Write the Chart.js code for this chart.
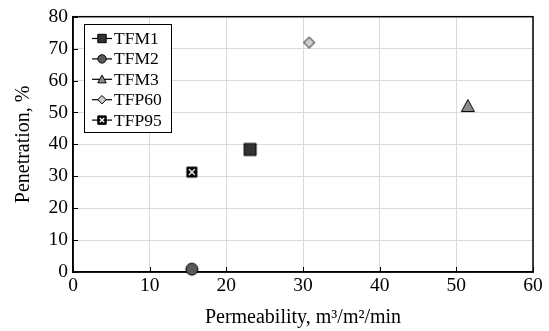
<!DOCTYPE html>
<html>
<head>
<meta charset="utf-8">
<script src="https://cdn.jsdelivr.net/npm/chart.js@4.4.0/dist/chart.umd.min.js"></script>
<style>
  html, body { margin: 0; padding: 0; background: #fff; }
  #wrap { width: 549px; height: 331px; }
</style>
</head>
<body>
<div id="wrap"><canvas id="scatterChart" width="549" height="331"></canvas></div>
<script>
const categories = ['TFM1', 'TFM2', 'TFM3', 'TFP60', 'TFP95'];
const permeability = [23.1, 15.5, 51.5, 30.8, 15.5];
const penetration = [38.4, 0.9, 52.0, 71.9, 31.3];
const markers = ['square', 'circle', 'triangle', 'diamond', 'xbox'];
const fills = ['#333333', '#595959', '#8c8c8c', '#cccccc', '#000000'];

const FONT = '"Liberation Serif", "Times New Roman", serif';

function drawMarker(ctx, style, cx, cy, r, fill) {
    ctx.save();
    ctx.lineWidth = 1;
    ctx.strokeStyle = '#000';
    ctx.fillStyle = fill;
    ctx.beginPath();
    if (style === 'square' || style === 'xbox') {
        ctx.rect(cx - r, cy - r, 2 * r, 2 * r);
    } else if (style === 'circle') {
        ctx.arc(cx, cy, r, 0, Math.PI * 2);
    } else if (style === 'triangle') {
        ctx.moveTo(cx, cy - r);
        ctx.lineTo(cx + r, cy + r * 0.85);
        ctx.lineTo(cx - r, cy + r * 0.85);
        ctx.closePath();
    } else if (style === 'diamond') {
        ctx.moveTo(cx, cy - r);
        ctx.lineTo(cx + r, cy);
        ctx.lineTo(cx, cy + r);
        ctx.lineTo(cx - r, cy);
        ctx.closePath();
    }
    ctx.fill();
    ctx.stroke();
    if (style === 'xbox') {
        ctx.strokeStyle = '#fff';
        ctx.lineWidth = 1.4;
        ctx.beginPath();
        ctx.moveTo(cx - r + 2, cy - r + 2);
        ctx.lineTo(cx + r - 2, cy + r - 2);
        ctx.moveTo(cx + r - 2, cy - r + 2);
        ctx.lineTo(cx - r + 2, cy + r - 2);
        ctx.stroke();
    }
    ctx.restore();
}

function markerImage(style, fill, r) {
    const c = document.createElement('canvas');
    c.width = 18;
    c.height = 18;
    drawMarker(c.getContext('2d'), style, 9, 9, r, fill);
    return c;
}

const pointSizes = { square: 6, circle: 6, triangle: 6.5, diamond: 5.5, xbox: 5 };

const datasets = categories.map((name, i) => ({
    label: name,
    data: [{ x: permeability[i], y: penetration[i] }],
    pointStyle: markerImage(markers[i], fills[i], pointSizes[markers[i]]),
    clip: false
}));

// inward ticks and closed frame
const framePlugin = {
    id: 'frame',
    beforeDatasetsDraw(chart) {
        const { ctx, chartArea: a, scales } = chart;
        ctx.save();
        ctx.strokeStyle = '#000';
        ctx.lineWidth = 1;
        ctx.beginPath();
        scales.x.ticks.forEach(t => {
            const px = Math.round(scales.x.getPixelForValue(t.value)) + 0.5;
            ctx.moveTo(px, a.bottom);
            ctx.lineTo(px, a.bottom - 5);
        });
        scales.y.ticks.forEach(t => {
            const py = Math.round(scales.y.getPixelForValue(t.value)) + 0.5;
            ctx.moveTo(a.left, py);
            ctx.lineTo(a.left + 5, py);
        });
        ctx.stroke();
        ctx.lineWidth = 1.5;
        ctx.strokeRect(a.left, a.top, a.right - a.left, a.bottom - a.top);
        ctx.restore();
    }
};

const legendPlugin = {
    id: 'boxLegend',
    afterDraw(chart) {
        const ctx = chart.ctx;
        const bx = 84, by = 24, bw = 87, bh = 108;
        ctx.save();
        ctx.fillStyle = '#fff';
        ctx.fillRect(bx, by, bw, bh);
        ctx.strokeStyle = '#000';
        ctx.lineWidth = 1;
        ctx.strokeRect(bx + 0.5, by + 0.5, bw, bh);
        ctx.font = '17.5px ' + FONT;
        ctx.textBaseline = 'middle';
        chart.data.datasets.forEach((ds, i) => {
            const y = 38.5 + i * 20.4;
            ctx.strokeStyle = '#000';
            ctx.lineWidth = 1.2;
            ctx.beginPath();
            ctx.moveTo(92, y);
            ctx.lineTo(112, y);
            ctx.stroke();
            drawMarker(ctx, markers[i], 102, y, 4.2, fills[i]);
            ctx.fillStyle = '#000';
            ctx.fillText(ds.label, 114, y + 1);
        });
        ctx.restore();
    }
};

new Chart(document.getElementById('scatterChart').getContext('2d'), {
    type: 'scatter',
    data: { datasets: datasets },
    plugins: [framePlugin, legendPlugin],
    options: {
        responsive: false,
        animation: false,
        layout: { padding: { top: 15, right: 16, left: 0, bottom: 0 } },
        plugins: {
            legend: { display: false },
            tooltip: { enabled: false }
        },
        scales: {
            x: {
                type: 'linear',
                min: 0,
                max: 60,
                ticks: { stepSize: 10, color: '#000', font: { family: FONT, size: 19.5 }, padding: 2, maxRotation: 0 },
                grid: { color: '#dadada', drawTicks: false },
                border: { display: true, color: '#000', width: 1.5 },
                title: {
                    display: true,
                    text: 'Permeability, m³/m²/min',
                    color: '#000',
                    font: { family: FONT, size: 20 },
                    padding: { top: 0, bottom: 1 }
                },
                afterFit(scale) { scale.height = 59; }
            },
            y: {
                type: 'linear',
                min: 0,
                max: 80,
                ticks: { stepSize: 10, color: '#000', font: { family: FONT, size: 19.5 }, padding: 5 },
                grid: { color: '#dadada', drawTicks: false },
                border: { display: true, color: '#000', width: 1.5 },
                title: {
                    display: true,
                    text: 'Penetration, %',
                    color: '#000',
                    font: { family: FONT, size: 20 },
                    padding: { top: 12, bottom: 0 }
                },
                afterFit(scale) { scale.width = 73; }
            }
        }
    }
});
</script>
</body>
</html>
